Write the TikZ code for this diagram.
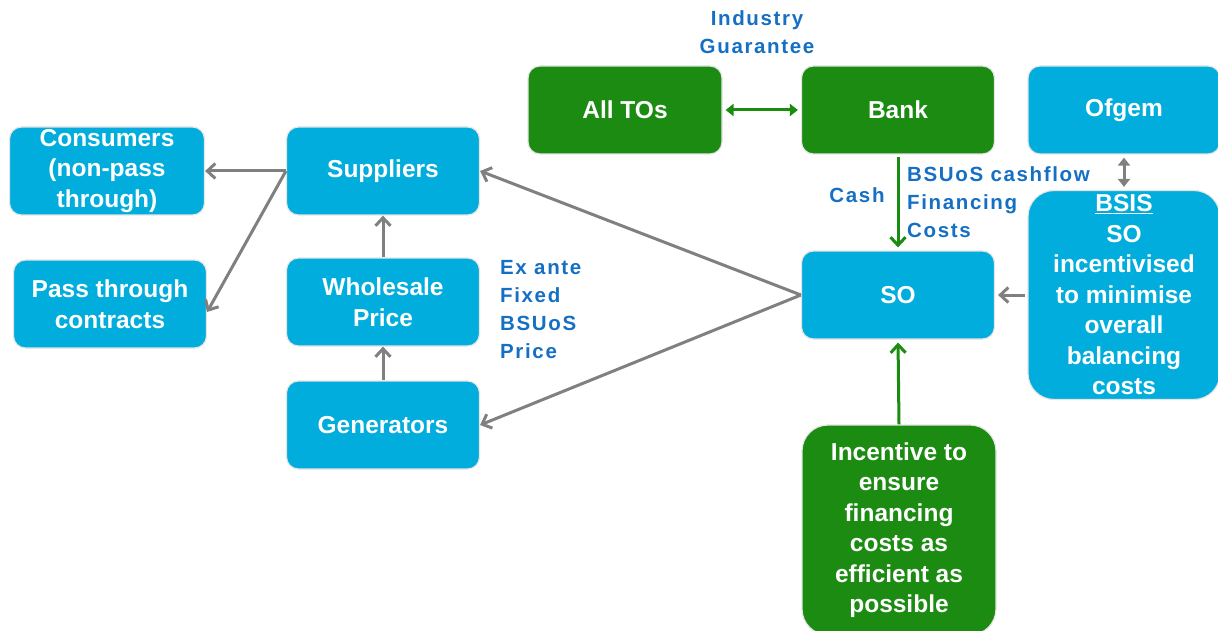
\documentclass[tikz,border=0pt]{standalone}
\usepackage{fontspec}
\setmainfont{Liberation Sans}
\newfontfamily\lblfont[LetterSpace=8]{Liberation Sans}
\usetikzlibrary{arrows.meta}
\definecolor{boxblue}{RGB}{0,173,220}
\definecolor{boxgreen}{RGB}{27,139,18}
\definecolor{lblblue}{RGB}{21,111,195}
\definecolor{arrowgray}{RGB}{128,128,128}
\tikzset{
  bluebox/.style={rounded corners=12pt, fill=boxblue, draw=black!10, line width=1.2pt,
    text=white, font=\bfseries\fontsize{24.5}{30.5}\selectfont, align=center,
    minimum width=193pt, minimum height=88pt, inner sep=0pt},
  greenbox/.style={bluebox, fill=boxgreen},
  lbl/.style={text=lblblue, font=\lblfont\bfseries\fontsize{20.5}{28}\selectfont, inner sep=0pt},
  grayarrow/.style={draw=arrowgray, line width=3pt, -{Straight Barb[length=8pt,width=15pt]}},
  greenarrow/.style={draw=boxgreen, line width=3pt, -{Straight Barb[length=8pt,width=15pt]}},
  bothways/.style={{Triangle[length=8pt,width=12pt]}-{Triangle[length=8pt,width=12pt]}, line width=3pt, shorten <=3pt, shorten >=3pt}
}

\begin{document}
\begin{tikzpicture}[x=1pt,y=1pt,yscale=-1]
\useasboundingbox (0,0) rectangle (1218,631);

% Text Node
\node (consumers) at (107,171) [bluebox, minimum width=195pt] {Consumers\\(non-pass\\through)};
% Text Node
\node (passthru) at (110,304) [bluebox] {Pass through\\contracts};
% Text Node
\node (suppliers) at (383,171) [bluebox] {Suppliers};
% Text Node
\node (wholesale) at (383,302) [bluebox] {Wholesale\\Price};
% Text Node
\node (generators) at (383,425) [bluebox] {Generators};
% Text Node
\node (alltos) at (625,110) [greenbox, minimum width=194pt] {All TOs};
% Text Node
\node (bank) at (898,110) [greenbox] {Bank};
% Text Node
\node (ofgem) at (1124,110) [bluebox, minimum width=192pt] {Ofgem};
% Text Node
\node (so) at (898,295) [bluebox] {SO};
% Text Node
\node (bsis) at (1124,295) [bluebox, rounded corners=26pt, minimum width=192pt, minimum height=209pt] {\underline{BSIS}\\SO\\incentivised\\to minimise\\overall\\balancing\\costs};
% Text Node
\node (incentive) at (899,530) [greenbox, rounded corners=26pt, minimum width=194pt, minimum height=210pt] {Incentive to\\ensure\\financing\\costs as\\efficient as\\possible};

% Text Node
\node (guarantee) at (757,32) [lbl, align=center] {Industry\\Guarantee};
% Text Node
\node (cash) at (857,195) [lbl] {Cash};
% Text Node
\node (cashflow) at (907,202) [lbl, anchor=west, align=left] {BSUoS cashflow\\Financing\\Costs};
% Text Node
\node (exante) at (500,310) [lbl, anchor=west, align=left] {Ex ante\\Fixed\\BSUoS\\Price};

% Connection
\draw [grayarrow] (suppliers.west) -- (consumers.east);
% Connection
\draw [grayarrow] (suppliers.west) -- ([yshift=8pt]passthru.east);
% Connection
\draw [grayarrow] (wholesale.north) -- (suppliers.south);
% Connection
\draw [grayarrow] (generators.north) -- (wholesale.south);
% Connection
\draw [grayarrow] (so.west) -- (suppliers.east);
% Connection
\draw [grayarrow] (so.west) -- (generators.east);
% Connection
\draw [grayarrow, shorten <=2pt, shorten >=3pt] (bsis.west) -- (so.east);
% Connection
\draw [draw=arrowgray, bothways] (ofgem.south) -- (bsis.north);
% Connection
\draw [draw=boxgreen, bothways] (alltos.east) -- (bank.west);
% Connection
\draw [greenarrow, shorten <=2pt, shorten >=3pt] (bank.south) -- (so.north);
% Connection
\draw [greenarrow, shorten >=3pt] (incentive.north) -- (so.south);

\end{tikzpicture}
\end{document}
